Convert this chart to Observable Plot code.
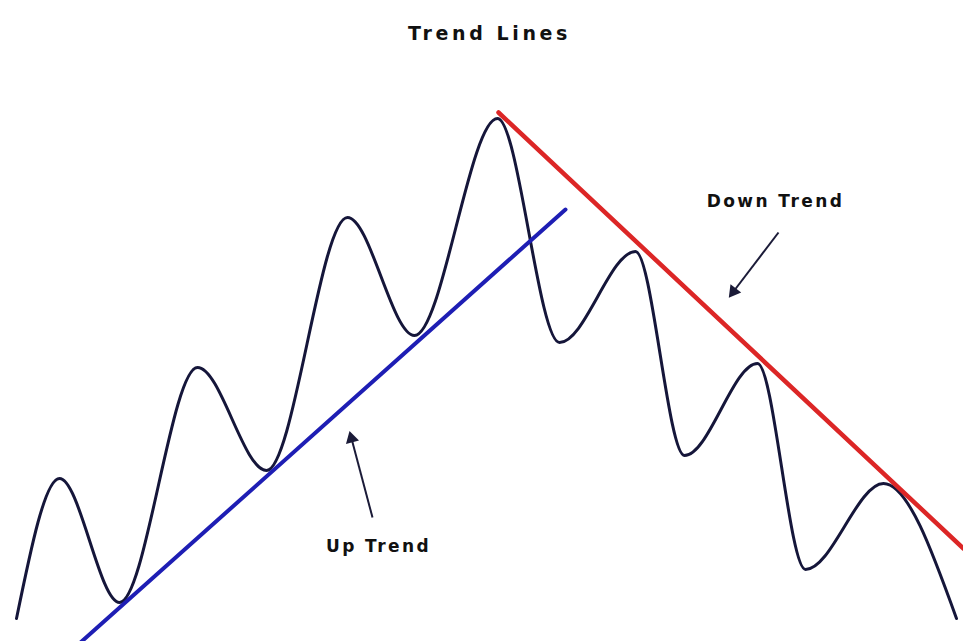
<!DOCTYPE html>
<html>
<head>
<meta charset="utf-8">
<script src="https://cdn.jsdelivr.net/npm/d3@7"></script>
<script src="https://cdn.jsdelivr.net/npm/@observablehq/plot@0.6"></script>
<style>
  html, body { margin: 0; padding: 0; background: #fff; }
  #chart svg text { letter-spacing: 2.4px; }
</style>
</head>
<body>
<div id="chart"></div>
<script>
// Price path (time, price): start, peaks/troughs and end
const time = [16,59,119,197,266,347,414,497,559,635,684,757,805,883,956];
const price = [23,163,39,274,171,424,306,523,299,390,186,278,72,158,23];

// Trend lines (start/end)
const upTrendTime = [80, 565];
const upTrendPrice = [-1, 432];
const downTrendTime = [498, 963];
const downTrendPrice = [529, 93];

// Labels and arrows
const labelText = ["Down Trend", "Up Trend"];
const labelTime = [775, 378];
const labelPrice = [440, 95];
const arrowFromTime = [778, 372];
const arrowFromPrice = [409, 124];
const arrowToTime = [733, 351];
const arrowToPrice = [350, 203];

const titleText = "Trend Lines";
const titleTime = 489;
const titlePrice = 608;

const path = time.map((t, i) => ({t, p: price[i]}));
const upLine = upTrendTime.map((t, i) => ({t, p: upTrendPrice[i]}));
const downLine = downTrendTime.map((t, i) => ({t, p: downTrendPrice[i]}));
const labels = labelText.map((s, i) => ({s, t: labelTime[i], p: labelPrice[i]}));
const arrows = arrowFromTime.map((t, i) => ({
  x1: t, y1: arrowFromPrice[i], x2: arrowToTime[i], y2: arrowToPrice[i],
  angle: Math.atan2(arrowToTime[i] - t, arrowToPrice[i] - arrowFromPrice[i]) * 180 / Math.PI
}));

const chart = Plot.plot({
  width: 963,
  height: 641,
  margin: 0,
  x: {domain: [0, 963], axis: null},
  y: {domain: [0, 641], axis: null},
  style: {background: "#fff"},
  marks: [
    Plot.line(path, {x: "t", y: "p", curve: "monotone-x", stroke: "#15163a", strokeWidth: 3}),
    Plot.line(upLine, {x: "t", y: "p", stroke: "#1e1eb4", strokeWidth: 4}),
    Plot.line(downLine, {x: "t", y: "p", stroke: "#dc2626", strokeWidth: 4.5}),
    Plot.link(arrows, {x1: "x1", y1: "y1", x2: "x2", y2: "y2", stroke: "#1b1b38", strokeWidth: 2}),
    Plot.dot(arrows, {x: "x2", y: "y2", symbol: "triangle", r: 5, rotate: "angle", fill: "#1b1b38", stroke: "none"}),
    Plot.text(labels, {x: "t", y: "p", text: "s", fontSize: 17, fontWeight: "bold", fontFamily: "DejaVu Sans", fill: "#111"}),
    Plot.text([titleText], {x: () => titleTime, y: () => titlePrice, text: d => d, fontSize: 19, fontWeight: "bold", fontFamily: "DejaVu Sans", fill: "#111"})
  ]
});
d3.select(chart).selectAll("text").filter(function() { return this.textContent === titleText; })
  .style("letter-spacing", "3.6px");
document.getElementById("chart").appendChild(chart);
</script>
</body>
</html>
